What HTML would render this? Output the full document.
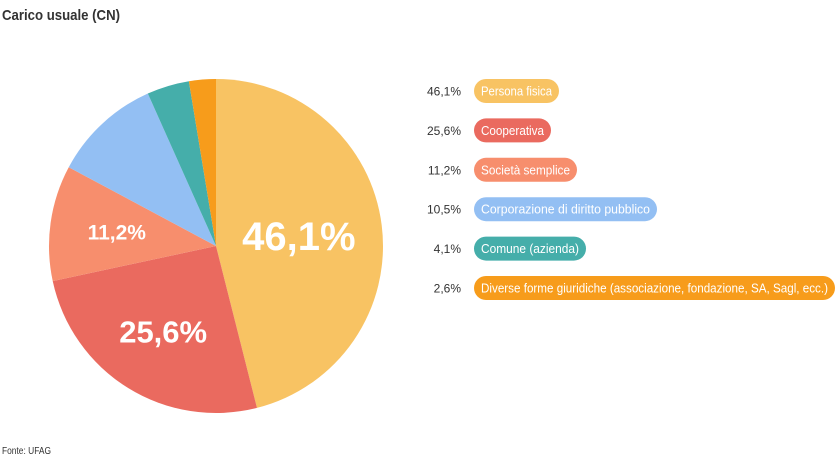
<!DOCTYPE html>
<html><head><meta charset="utf-8"><style>
body{margin:0;background:#fff;font-family:"Liberation Sans",sans-serif;}
</style></head><body>
<svg width="836" height="468" viewBox="0 0 836 468" xmlns="http://www.w3.org/2000/svg">
<text x="2" y="20" font-size="15" font-weight="bold" fill="#333" textLength="118" lengthAdjust="spacingAndGlyphs">Carico usuale (CN)</text>
<g id="pie"></g>
<g id="legend"></g>
<text x="2" y="454" font-size="10" fill="#333" textLength="49" lengthAdjust="spacingAndGlyphs">Fonte: UFAG</text>
</svg>
<script>
const categories=["Persona fisica","Cooperativa","Società semplice","Corporazione di diritto pubblico","Comune (azienda)","Diverse forme giuridiche (associazione, fondazione, SA, Sagl, ecc.)"];
const values=[46.1,25.6,11.2,10.5,4.1,2.6];
const valueLabels=["46,1%","25,6%","11,2%","10,5%","4,1%","2,6%"];
const colors=["#f8c363","#ea6a5f","#f78e6d","#93bff3","#45aeaa","#f79c1b"];
const NS="http://www.w3.org/2000/svg";
const cx=216,cy=246,r=167;
const total=values.reduce((a,b)=>a+b,0);
const pie=document.getElementById('pie');
let a0=0;
function pt(a,rr){return [cx+rr*Math.sin(a),cy-rr*Math.cos(a)];}
values.forEach((v,i)=>{
  const a1=a0+v/total*2*Math.PI;
  const p0=pt(a0,r),p1=pt(a1,r);
  const path=document.createElementNS(NS,'path');
  path.setAttribute('d',`M${cx},${cy}L${p0[0]},${p0[1]}A${r},${r} 0 ${a1-a0>Math.PI?1:0} 1 ${p1[0]},${p1[1]}Z`);
  path.setAttribute('fill',colors[i]);
  
  
  pie.appendChild(path);
  const frac=v/total;
  if(frac>0.11){
    const mid=(a0+a1)/2;
    const lp=pt(mid,r*(i===0?0.5:0.6));
    const t=document.createElementNS(NS,'text');
    const fs=frac>0.4?40:frac>0.2?31:21;
    t.setAttribute('x',lp[0]);t.setAttribute('y',lp[1]+fs*0.36);
    t.setAttribute('text-anchor','middle');t.setAttribute('font-size',fs);
    t.setAttribute('font-weight','bold');t.setAttribute('fill','#fff');
    t.textContent=valueLabels[i];
    
    
    pie.appendChild(t);
  }
  a0=a1;
});
const lg=document.getElementById('legend');
const pillW=[85,77,103,183,112,361];
categories.forEach((c,i)=>{
  const y=91+i*39.4;
  const vt=document.createElementNS(NS,'text');
  vt.setAttribute('x',461);vt.setAttribute('y',y+4.5);vt.setAttribute('text-anchor','end');
  vt.setAttribute('font-size',12);vt.setAttribute('fill','#333');
  vt.textContent=valueLabels[i];
  
  
  lg.appendChild(vt);
  const rc=document.createElementNS(NS,'rect');
  rc.setAttribute('x',474);rc.setAttribute('y',y-12);rc.setAttribute('width',pillW[i]);rc.setAttribute('height',24);
  rc.setAttribute('rx',12);rc.setAttribute('fill',colors[i]);
  
  
  lg.appendChild(rc);
  const t=document.createElementNS(NS,'text');
  t.setAttribute('x',481);t.setAttribute('y',y+4.5);t.setAttribute('font-size',12.5);t.setAttribute('fill','#fff');
  t.setAttribute('textLength',pillW[i]-14);t.setAttribute('lengthAdjust','spacingAndGlyphs');
  t.textContent=c;
  
  
  lg.appendChild(t);
});
</script>
</body></html>
